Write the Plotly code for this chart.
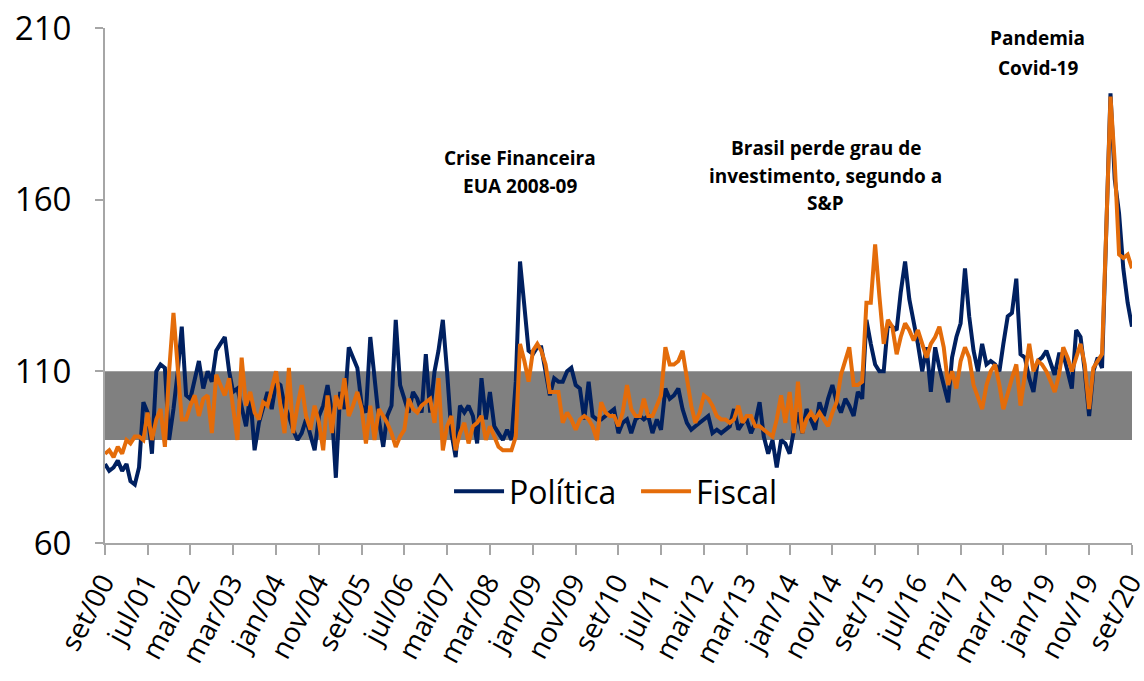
import pandas as pd
import plotly.graph_objects as go

# série mensal set/00 - set/20
datas = pd.date_range("2000-09-01", "2020-09-01", freq="MS")

politica = [
    83, 81, 82, 84, 81, 83, 78, 77, 82, 101, 98, 86, 110, 112, 111, 90, 99, 110, 123, 103,
    102, 108, 113, 105, 110, 107, 116, 118, 120, 110, 104, 105, 100, 94, 103, 87, 95, 100, 104, 99,
    107, 106, 100, 97, 93, 90, 92, 96, 91, 87, 97, 100, 106, 98, 79, 104, 99, 117, 114, 111,
    100, 98, 120, 108, 96, 88, 97, 100, 125, 106, 102, 98, 104, 102, 98, 115, 98, 110, 116, 125,
    110, 92, 85, 100, 98, 100, 97, 89, 108, 96, 104, 94, 92, 90, 93, 90, 107, 142, 129, 116,
    115, 117, 117, 110, 103, 108, 107, 107, 110, 111, 106, 105, 96, 107, 97, 96, 96, 97, 98, 99,
    92, 95, 96, 92, 96, 97, 96, 97, 92, 96, 93, 105, 102, 103, 105, 99, 95, 93, 94, 95,
    96, 97, 92, 93, 92, 93, 94, 99, 93, 95, 96, 92, 95, 101, 91, 86, 90, 82, 90, 89,
    86, 93, 98, 92, 99, 96, 93, 101, 97, 102, 106, 101, 98, 102, 100, 97, 104, 102, 125, 118,
    112, 110, 110, 124, 123, 122, 133, 142, 131, 125, 118, 110, 117, 104, 117, 111, 106, 101, 114, 120,
    124, 140, 126, 116, 110, 118, 112, 113, 112, 110, 118, 126, 127, 137, 115, 114, 108, 104, 113, 114,
    116, 112, 109, 115, 115, 110, 105, 122, 120, 110, 97, 110, 114, 111, 150, 191, 166, 156, 140, 130,
    123,
]

fiscal = [
    86, 87, 85, 88, 86, 90, 89, 91, 91, 90, 98, 90, 96, 99, 88, 110, 127, 110, 96, 96,
    100, 103, 97, 102, 103, 92, 109, 106, 103, 108, 100, 90, 114, 100, 104, 98, 96, 101, 100, 105,
    110, 100, 92, 111, 92, 100, 106, 97, 93, 100, 95, 87, 103, 92, 103, 99, 108, 97, 100, 104,
    99, 89, 100, 90, 99, 97, 95, 92, 88, 91, 93, 102, 99, 98, 100, 101, 102, 95, 108, 87,
    94, 97, 87, 92, 95, 89, 94, 95, 97, 90, 94, 91, 88, 87, 87, 87, 91, 118, 113, 107,
    116, 118, 116, 112, 104, 104, 104, 95, 98, 96, 93, 96, 97, 96, 94, 90, 101, 98, 97, 97,
    94, 98, 106, 99, 97, 97, 102, 97, 97, 100, 103, 117, 112, 112, 113, 116, 107, 100, 95, 98,
    103, 102, 100, 97, 96, 96, 95, 96, 100, 95, 97, 97, 94, 94, 93, 92, 91, 96, 103, 95,
    104, 92, 107, 92, 96, 98, 96, 98, 96, 94, 98, 101, 109, 113, 117, 106, 106, 107, 130, 130,
    147, 132, 118, 125, 123, 115, 120, 124, 122, 119, 122, 118, 114, 118, 120, 123, 117, 106, 110, 105,
    113, 117, 114, 106, 102, 99, 106, 110, 112, 106, 99, 104, 108, 112, 100, 109, 118, 110, 113, 112,
    110, 107, 104, 109, 117, 114, 110, 114, 118, 112, 99, 111, 113, 115, 150, 190, 171, 144, 143, 144,
    140,
]

tick_labels = [
    "set/00", "jul/01", "mai/02", "mar/03", "jan/04", "nov/04", "set/05", "jul/06", "mai/07",
    "mar/08", "jan/09", "nov/09", "set/10", "jul/11", "mai/12", "mar/13", "jan/14", "nov/14",
    "set/15", "jul/16", "mai/17", "mar/18", "jan/19", "nov/19", "set/20",
]
tick_datas = datas[::10]

fonte = "Open Sans, Calibri, sans-serif"

fig = go.Figure()

# faixa cinza entre 90 e 110
fig.add_shape(type="rect", xref="x", yref="y", x0=datas[0], x1=datas[-1], y0=90, y1=110,
              fillcolor="#808080", line_width=0, layer="below")

fig.add_trace(go.Scatter(x=datas, y=politica, name="Política", mode="lines",
                         line=dict(color="#002060", width=4)))
fig.add_trace(go.Scatter(x=datas, y=fiscal, name="Fiscal", mode="lines",
                         line=dict(color="#E46C0A", width=4)))

# anotações dos eventos (uma linha por anotação para controlar o espaçamento)
notas = [
    (pd.Timestamp("2008-10-01"), [172.1, 164.0], ["Crise Financeira", "EUA 2008-09"]),
    (pd.Timestamp("2014-09-16"), [175.1, 166.9, 158.9],
     ["Brasil perde grau de", "investimento, segundo a", "S&P"]),
    (pd.Timestamp("2018-11-01"), [207.0, 198.3], ["Pandemia", "Covid-19"]),
]
for x, ys, linhas in notas:
    for y, txt in zip(ys, linhas):
        fig.add_annotation(x=x, y=y, text="<b>" + txt + "</b>", showarrow=False,
                           font=dict(family=fonte, size=19, color="black"))

fig.update_layout(
    width=1144, height=681,
    margin=dict(l=105, r=12, t=28, b=138),
    plot_bgcolor="white", paper_bgcolor="white",
    font=dict(family=fonte, color="black"),
    showlegend=True,
    legend=dict(orientation="h", x=0.335, y=0.1, xanchor="left", yanchor="middle",
                font=dict(size=32), bgcolor="rgba(0,0,0,0)", itemwidth=50,
                entrywidth=122, entrywidthmode="pixels"),
)
fig.update_xaxes(range=[datas[0], datas[-1]], tickvals=tick_datas, ticktext=tick_labels,
                 tickangle=-62, tickfont=dict(size=28), showgrid=False, zeroline=False,
                 showline=True, linecolor="#A6A6A6", linewidth=2, ticklabeloverflow="allow",
                 automargin=False, ticklabelshift=-2,
                 ticks="outside", ticklen=10, tickwidth=2, tickcolor="#A6A6A6")
fig.update_yaxes(range=[60, 210], tickvals=[60, 110, 160, 210], tickfont=dict(size=33),
                 showgrid=False, zeroline=False, showline=True, linecolor="#A6A6A6", linewidth=2,
                 ticks="outside", ticklen=8, tickwidth=2, tickcolor="#A6A6A6",
                 ticklabelstandoff=17, ticklabeloverflow="allow", automargin=False)

# tira a margem padrão do body para a figura ocupar a janela inteira
fig.write_html("out.html", config={"displayModeBar": False},
               post_script="document.body.style.margin='0';document.body.style.overflow='hidden';")
